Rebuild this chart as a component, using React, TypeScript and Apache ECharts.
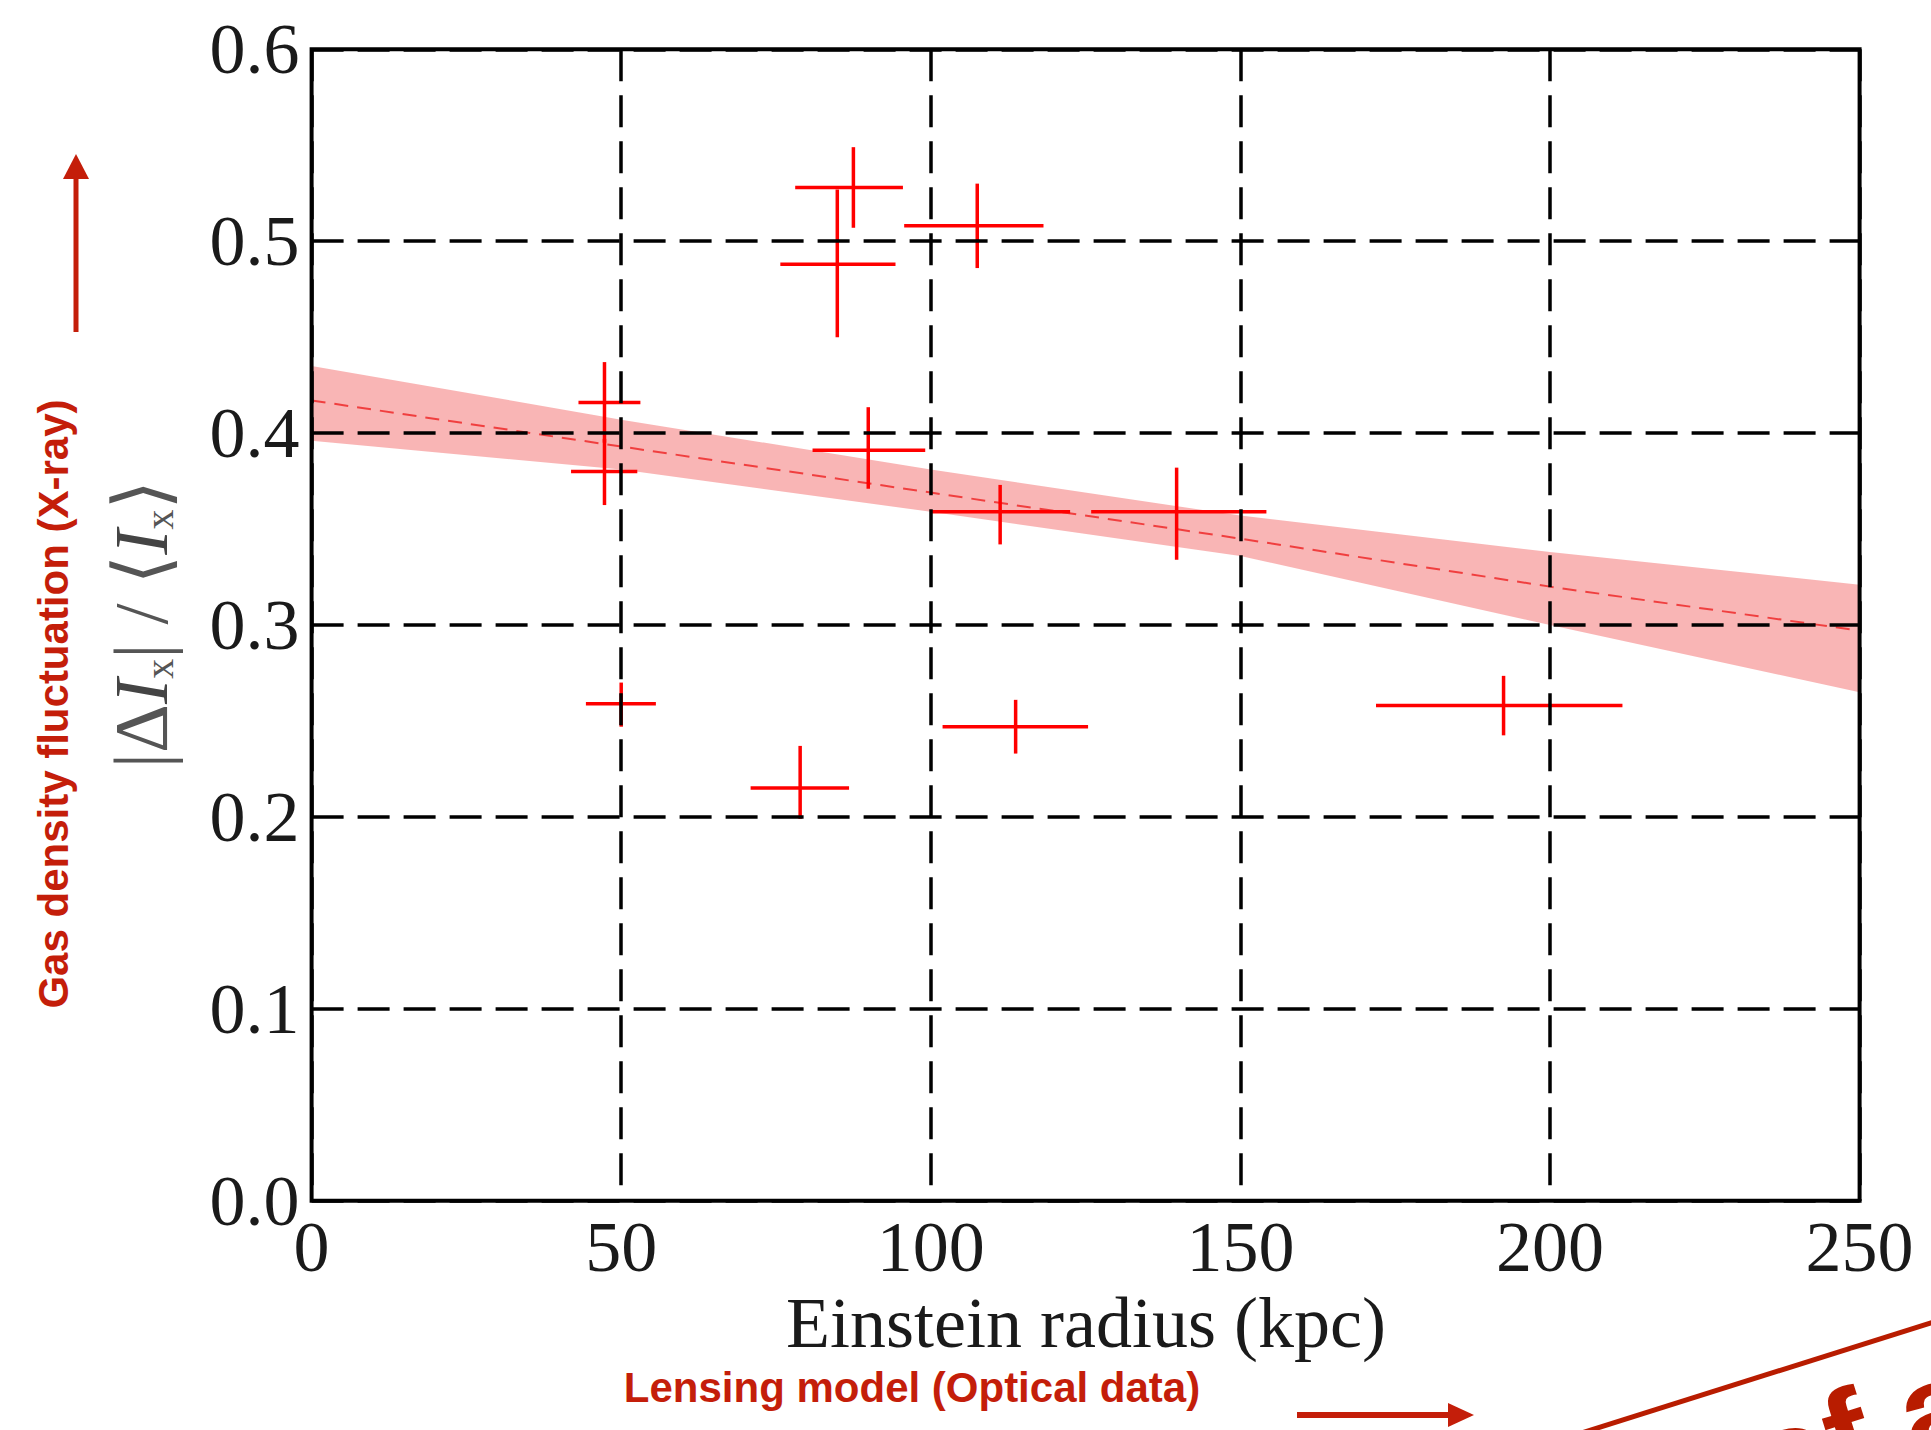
import React, { useEffect, useRef } from 'react';
import * as echarts from 'echarts';

// ---- Data ----
const xVals = [87.5, 84.9, 107.5, 47.3, 47.3, 89.9, 111.2, 139.7, 50.0, 113.7, 78.9, 192.5];
const yVals = [0.528, 0.488, 0.508, 0.416, 0.380, 0.391, 0.359, 0.359, 0.259, 0.247, 0.215, 0.258];
const xLow = [78.1, 75.7, 95.7, 43.1, 41.9, 80.9, 100.2, 125.9, 44.3, 101.9, 70.9, 171.9];
const xHigh = [95.5, 94.3, 118.2, 53.1, 52.6, 99.1, 122.5, 154.2, 55.6, 125.4, 86.8, 211.7];
const yLow = [0.507, 0.450, 0.486, 0.395, 0.3625, 0.371, 0.342, 0.334, 0.247, 0.233, 0.199, 0.2425];
const yHigh = [0.549, 0.527, 0.530, 0.437, 0.397, 0.4135, 0.373, 0.382, 0.270, 0.261, 0.237, 0.2735];

const bandX = [0, 50, 100, 150, 200, 250];
const bandLow = [0.396, 0.381, 0.359, 0.336, 0.300, 0.265];
const bandHigh = [0.435, 0.407, 0.381, 0.357, 0.338, 0.321];
const fitY = [0.417, 0.393, 0.369, 0.345, 0.320, 0.297];

const xRange = [0, 250, 50];
const yRange = [0, 0.6, 0.1];

const xTitle = 'Einstein radius (kpc)';
const annotY = 'Gas density fluctuation (X-ray)';
const annotX = 'Lensing model (Optical data)';
const annotCut = 'of a';

const SERIF = '"Liberation Serif", "Times New Roman", "DejaVu Serif", serif';
const SANS = '"Liberation Sans", Arial, "Helvetica", sans-serif';
const ANN_RED = '#c41e0a';
const CUT_RED = '#b81c00';

export default function App() {
  const ref = useRef<HTMLDivElement>(null);
  useEffect(() => {
    document.body.style.margin = '0';
    const chart = echarts.init(ref.current!, null, { renderer: 'svg' });
    const option: any = {
      animation: false,
      backgroundColor: '#ffffff',
      grid: {
        left: 311.6,
        right: 71.4,
        top: 49.3,
        bottom: 229.3,
        show: true,
        borderColor: '#000',
        borderWidth: 4,
        backgroundColor: 'transparent',
        z: 10,
      },
      xAxis: {
        type: 'value',
        min: xRange[0],
        max: xRange[1],
        interval: xRange[2],
        z: 10,
        axisLine: { show: false },
        axisTick: { show: false },
        axisLabel: { fontSize: 72, fontFamily: SERIF, color: '#1a1a1a', margin: 10 },
        splitLine: { show: true, lineStyle: { color: '#000', width: 3.5, type: [32, 14] } },
      },
      yAxis: {
        type: 'value',
        min: yRange[0],
        max: yRange[1],
        interval: yRange[2],
        z: 10,
        axisLine: { show: false },
        axisTick: { show: false },
        axisLabel: {
          fontSize: 72,
          fontFamily: SERIF,
          color: '#1a1a1a',
          margin: 12,
          formatter: (v: number) => v.toFixed(1),
        },
        splitLine: { show: true, lineStyle: { color: '#000', width: 3.5, type: [32, 14] } },
      },
      series: [
        {
          type: 'custom',
          silent: true,
          z: 1,
          data: bandX.map((x, i) => [x, bandLow[i], bandHigh[i]]),
          encode: { x: 0, y: [1, 2] },
          renderItem: (params: any, api: any) => {
            if (params.dataIndex !== 0) return null;
            const upper = bandX.map((x, i) => api.coord([x, bandHigh[i]]));
            const lower = bandX.map((x, i) => api.coord([x, bandLow[i]])).reverse();
            return {
              type: 'polygon',
              shape: { points: upper.concat(lower) },
              style: { fill: 'rgba(240,60,60,0.38)' },
            };
          },
        },
        {
          type: 'line',
          silent: true,
          z: 2,
          symbol: 'none',
          data: bandX.map((x, i) => [x, fitY[i]]),
          lineStyle: { color: '#ee2a2a', width: 2, type: [14, 9], opacity: 0.85 },
        },
        {
          type: 'custom',
          silent: true,
          z: 3,
          data: xVals.map((x, i) => [x, yVals[i], xLow[i], xHigh[i], yLow[i], yHigh[i]]),
          encode: { x: 0, y: 1 },
          renderItem: (params: any, api: any) => {
            const x = api.value(0);
            const y = api.value(1);
            const pL = api.coord([api.value(2), y]);
            const pR = api.coord([api.value(3), y]);
            const pB = api.coord([x, api.value(4)]);
            const pT = api.coord([x, api.value(5)]);
            const st = { stroke: '#ff0000', lineWidth: 3.5 };
            return {
              type: 'group',
              children: [
                { type: 'line', shape: { x1: pL[0], y1: pL[1], x2: pR[0], y2: pR[1] }, style: st },
                { type: 'line', shape: { x1: pB[0], y1: pB[1], x2: pT[0], y2: pT[1] }, style: st },
              ],
            };
          },
        },
      ],
      graphic: [
        {
          type: 'text',
          x: 1086,
          y: 1323,
          style: {
            text: xTitle,
            fontSize: 72,
            fontFamily: SERIF,
            fill: '#1a1a1a',
            align: 'center',
            verticalAlign: 'middle',
          },
        },
        {
          type: 'text',
          x: 141,
          y: 624,
          rotation: Math.PI / 2,
          style: {
            text: '{n||Δ}{i|I}{s|x}{n|| / ⟨}{i|I}{s|x}{n|⟩}',
            align: 'center',
            verticalAlign: 'middle',
            fill: '#555',
            fontSize: 76,
            fontFamily: SERIF,
            rich: {
              n: { fontSize: 76, fontFamily: SERIF, fill: '#555' },
              i: { fontSize: 76, fontFamily: SERIF, fontStyle: 'italic', fill: '#444' },
              s: { fontSize: 40, fontFamily: SERIF, fill: '#555', verticalAlign: 'bottom' },
            },
          },
        },
        {
          type: 'text',
          x: 53,
          y: 704,
          rotation: Math.PI / 2,
          style: {
            text: annotY,
            fontSize: 42,
            fontWeight: 'bold',
            fontFamily: SANS,
            fill: ANN_RED,
            align: 'center',
            verticalAlign: 'middle',
          },
        },
        {
          type: 'line',
          shape: { x1: 76, y1: 332, x2: 76, y2: 172 },
          style: { stroke: ANN_RED, lineWidth: 5 },
        },
        {
          type: 'polygon',
          shape: { points: [[63, 179], [89, 179], [76, 154]] },
          style: { fill: ANN_RED },
        },
        {
          type: 'text',
          x: 912,
          y: 1387,
          style: {
            text: annotX,
            fontSize: 42,
            fontWeight: 'bold',
            fontFamily: SANS,
            fill: ANN_RED,
            align: 'center',
            verticalAlign: 'middle',
          },
        },
        {
          type: 'line',
          shape: { x1: 1297, y1: 1415, x2: 1452, y2: 1415 },
          style: { stroke: ANN_RED, lineWidth: 6 },
        },
        {
          type: 'polygon',
          shape: { points: [[1448, 1403], [1448, 1427], [1474, 1415]] },
          style: { fill: ANN_RED },
        },
        {
          type: 'line',
          shape: { x1: 1572, y1: 1436, x2: 1940, y2: 1320 },
          style: { stroke: CUT_RED, lineWidth: 5 },
        },
        {
          type: 'text',
          x: 1752,
          y: 1465,
          rotation: 0.304,
          style: {
            text: annotCut,
            fontSize: 128,
            fontWeight: 'bold',
            fontFamily: SANS,
            fill: CUT_RED,
            align: 'left',
            verticalAlign: 'middle',
          },
        },
      ],
    };
    chart.setOption(option);
    return () => chart.dispose();
  }, []);
  return <div ref={ref} style={{ width: 1931, height: 1430 }} />;
}
